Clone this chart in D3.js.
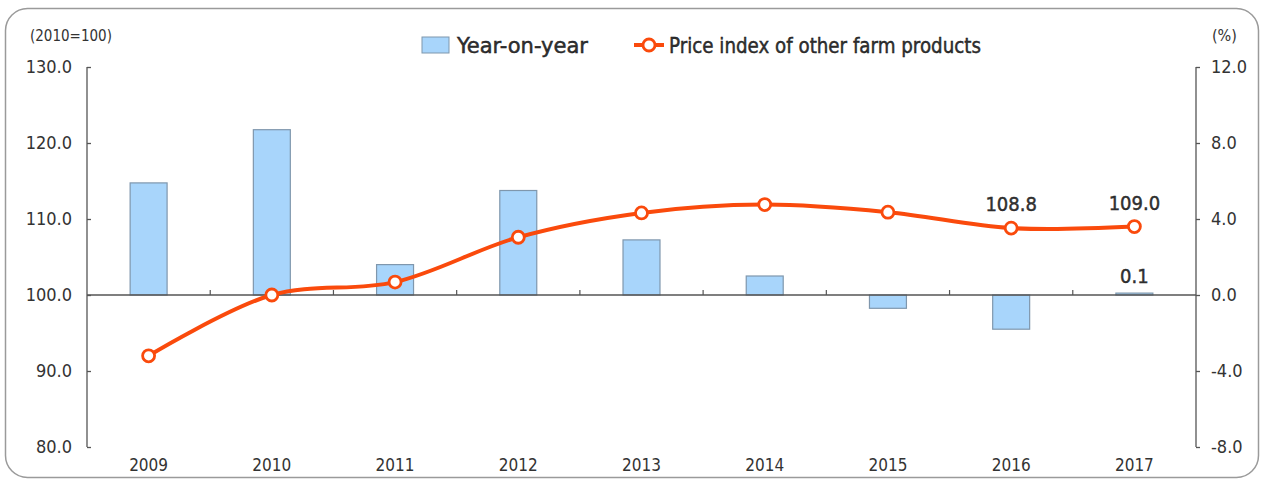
<!DOCTYPE html>
<html>
<head>
<meta charset="utf-8">
<script src="https://cdn.jsdelivr.net/npm/d3@7"></script>
<style>
  body { margin: 0; background: #fff; }
  svg text { font-family: "DejaVu Sans Condensed", "DejaVu Sans", sans-serif; font-stretch: condensed; fill: #333; }
</style>
</head>
<body>
<div id="chart"></div>
<script>
// data
var years = ["2009", "2010", "2011", "2012", "2013", "2014", "2015", "2016", "2017"];
var yoy = [5.9, 8.7, 1.6, 5.5, 2.9, 1.0, -0.7, -1.8, 0.1];           // %, right axis
var priceIndex = [92.0, 100.0, 101.7, 107.6, 110.8, 111.9, 110.9, 108.8, 109.0]; // 2010=100, left axis
var leftTicks = [80, 90, 100, 110, 120, 130];
var rightTicks = [-8, -4, 0, 4, 8, 12];
var labelled = ["2016", "2017"];

function init() {
    var w = 1261;
    var h = 481;

    var svg = d3.select("#chart")
        .append("svg")
        .attr("width", w)
        .attr("height", h);

    // frame
    svg.append("rect")
        .attr("x", 5.5).attr("y", 8.5)
        .attr("width", 1253).attr("height", 469)
        .attr("rx", 22).attr("ry", 22)
        .attr("fill", "none")
        .attr("stroke", "#9a9a9a")
        .attr("stroke-width", 1.5);

    var left = 87, right = 1196, top = 67, bottom = 447;

    var x = d3.scaleBand()
        .domain(years)
        .range([left, right])
        .paddingInner(0.7)
        .paddingOuter(0.35);

    var yL = d3.scaleLinear().domain([80, 130]).range([bottom, top]);
    var yR = d3.scaleLinear().domain([-8, 12]).range([bottom, top]);

    var cx = function (d) { return x(d) + x.bandwidth() / 2; };
    var fmt = function (d) { return d3.format(".1f")(d).replace("\u2212", "-"); };

    // bars
    svg.selectAll("rect.bar")
        .data(yoy)
        .enter()
        .append("rect")
        .attr("class", "bar")
        .attr("x", function (d, i) { return x(years[i]); })
        .attr("y", function (d) { return yR(Math.max(0, d)); })
        .attr("width", x.bandwidth())
        .attr("height", function (d) { return Math.abs(yR(d) - yR(0)); })
        .attr("fill", "#a8d5fb")
        .attr("stroke", "#7f97ad")
        .attr("stroke-width", 1.2);

    // category axis along zero line
    var zeroY = yR(0);
    svg.append("line")
        .attr("x1", left).attr("x2", right)
        .attr("y1", zeroY).attr("y2", zeroY)
        .attr("stroke", "#555").attr("stroke-width", 1.3);

    var step = x.step();
    svg.selectAll("line.xtick")
        .data(d3.range(1, years.length))
        .enter()
        .append("line")
        .attr("class", "xtick")
        .attr("x1", function (k) { return left + k * step; })
        .attr("x2", function (k) { return left + k * step; })
        .attr("y1", zeroY).attr("y2", zeroY - 5)
        .attr("stroke", "#555").attr("stroke-width", 1.2);

    svg.selectAll("text.xlab")
        .data(years)
        .enter()
        .append("text")
        .attr("class", "xlab")
        .attr("x", cx)
        .attr("y", 471)
        .attr("text-anchor", "middle")
        .attr("font-size", 17)
        .text(function (d) { return d; });

    // left axis
    var axL = svg.append("g")
        .attr("transform", "translate(" + left + ",0)")
        .call(d3.axisLeft(yL).tickValues(leftTicks).tickSize(-4).tickPadding(15)
            .tickFormat(fmt));
    axL.select(".domain").attr("stroke", "#555").attr("stroke-width", 1.3)
        .attr("d", "M0," + top + "V" + bottom);
    axL.selectAll(".tick line").attr("stroke", "#555").attr("stroke-width", 1.3);
    axL.selectAll("text").attr("font-size", 18).attr("fill", "#333")
        .style("font-family", "'DejaVu Sans Condensed', 'DejaVu Sans', sans-serif");

    // right axis
    var axR = svg.append("g")
        .attr("transform", "translate(" + right + ",0)")
        .call(d3.axisRight(yR).tickValues(rightTicks).tickSize(4).tickPadding(11)
            .tickFormat(fmt));
    axR.select(".domain").attr("stroke", "#555").attr("stroke-width", 1.3)
        .attr("d", "M0," + top + "V" + bottom);
    axR.selectAll(".tick line").attr("stroke", "#555").attr("stroke-width", 1.3);
    axR.selectAll("text").attr("font-size", 18).attr("fill", "#333")
        .style("font-family", "'DejaVu Sans Condensed', 'DejaVu Sans', sans-serif");

    // axis unit titles
    svg.append("text").attr("x", 30).attr("y", 41).attr("font-size", 15).text("(2010=100)");
    svg.append("text").attr("x", 1212).attr("y", 41).attr("font-size", 16).text("(%)");

    // index line
    var line = d3.line()
        .x(function (d, i) { return cx(years[i]); })
        .y(function (d) { return yL(d); })
        .curve(d3.curveCatmullRom.alpha(0.5));

    svg.append("path")
        .datum(priceIndex)
        .attr("d", line)
        .attr("fill", "none")
        .attr("stroke", "#fa4a0c")
        .attr("stroke-width", 4);

    svg.selectAll("circle.pt")
        .data(priceIndex)
        .enter()
        .append("circle")
        .attr("class", "pt")
        .attr("cx", function (d, i) { return cx(years[i]); })
        .attr("cy", function (d) { return yL(d); })
        .attr("r", 6)
        .attr("fill", "#fff")
        .attr("stroke", "#fa4a0c")
        .attr("stroke-width", 2.8);

    // value labels
    years.forEach(function (yr, i) {
        if (labelled.indexOf(yr) < 0) return;
        svg.append("text")
            .attr("x", cx(yr))
            .attr("y", yL(priceIndex[i]) - 17)
            .attr("text-anchor", "middle")
            .attr("font-size", 20)
            .attr("fill", "#222")
            .attr("stroke", "#222").attr("stroke-width", 0.4)
            .text(priceIndex[i].toFixed(1));
    });
    var last = years.length - 1;
    svg.append("text")
        .attr("x", cx(years[last]))
        .attr("y", yR(yoy[last]) - 10)
        .attr("text-anchor", "middle")
        .attr("font-size", 20)
        .attr("fill", "#222")
        .attr("stroke", "#222").attr("stroke-width", 0.4)
        .text(yoy[last].toFixed(1));

    // legend
    var lg = svg.append("g");
    lg.append("rect")
        .attr("x", 422).attr("y", 37)
        .attr("width", 27).attr("height", 16)
        .attr("fill", "#a8d5fb")
        .attr("stroke", "#7f97ad");
    lg.append("text")
        .attr("x", 457).attr("y", 53)
        .attr("font-size", 21)
        .attr("fill", "#111")
        .attr("stroke", "#111").attr("stroke-width", 0.4)
        .attr("textLength", 131).attr("lengthAdjust", "spacingAndGlyphs")
        .text("Year-on-year");
    lg.append("line")
        .attr("x1", 634).attr("x2", 664)
        .attr("y1", 45).attr("y2", 45)
        .attr("stroke", "#fa4a0c").attr("stroke-width", 4);
    lg.append("circle")
        .attr("cx", 649).attr("cy", 45).attr("r", 6)
        .attr("fill", "#fff").attr("stroke", "#fa4a0c").attr("stroke-width", 2.8);
    lg.append("text")
        .attr("x", 669).attr("y", 53)
        .attr("font-size", 21)
        .attr("fill", "#111")
        .attr("stroke", "#111").attr("stroke-width", 0.4)
        .attr("textLength", 312).attr("lengthAdjust", "spacingAndGlyphs")
        .text("Price index of other farm products");
}

window.onload = init;
</script>
</body>
</html>
